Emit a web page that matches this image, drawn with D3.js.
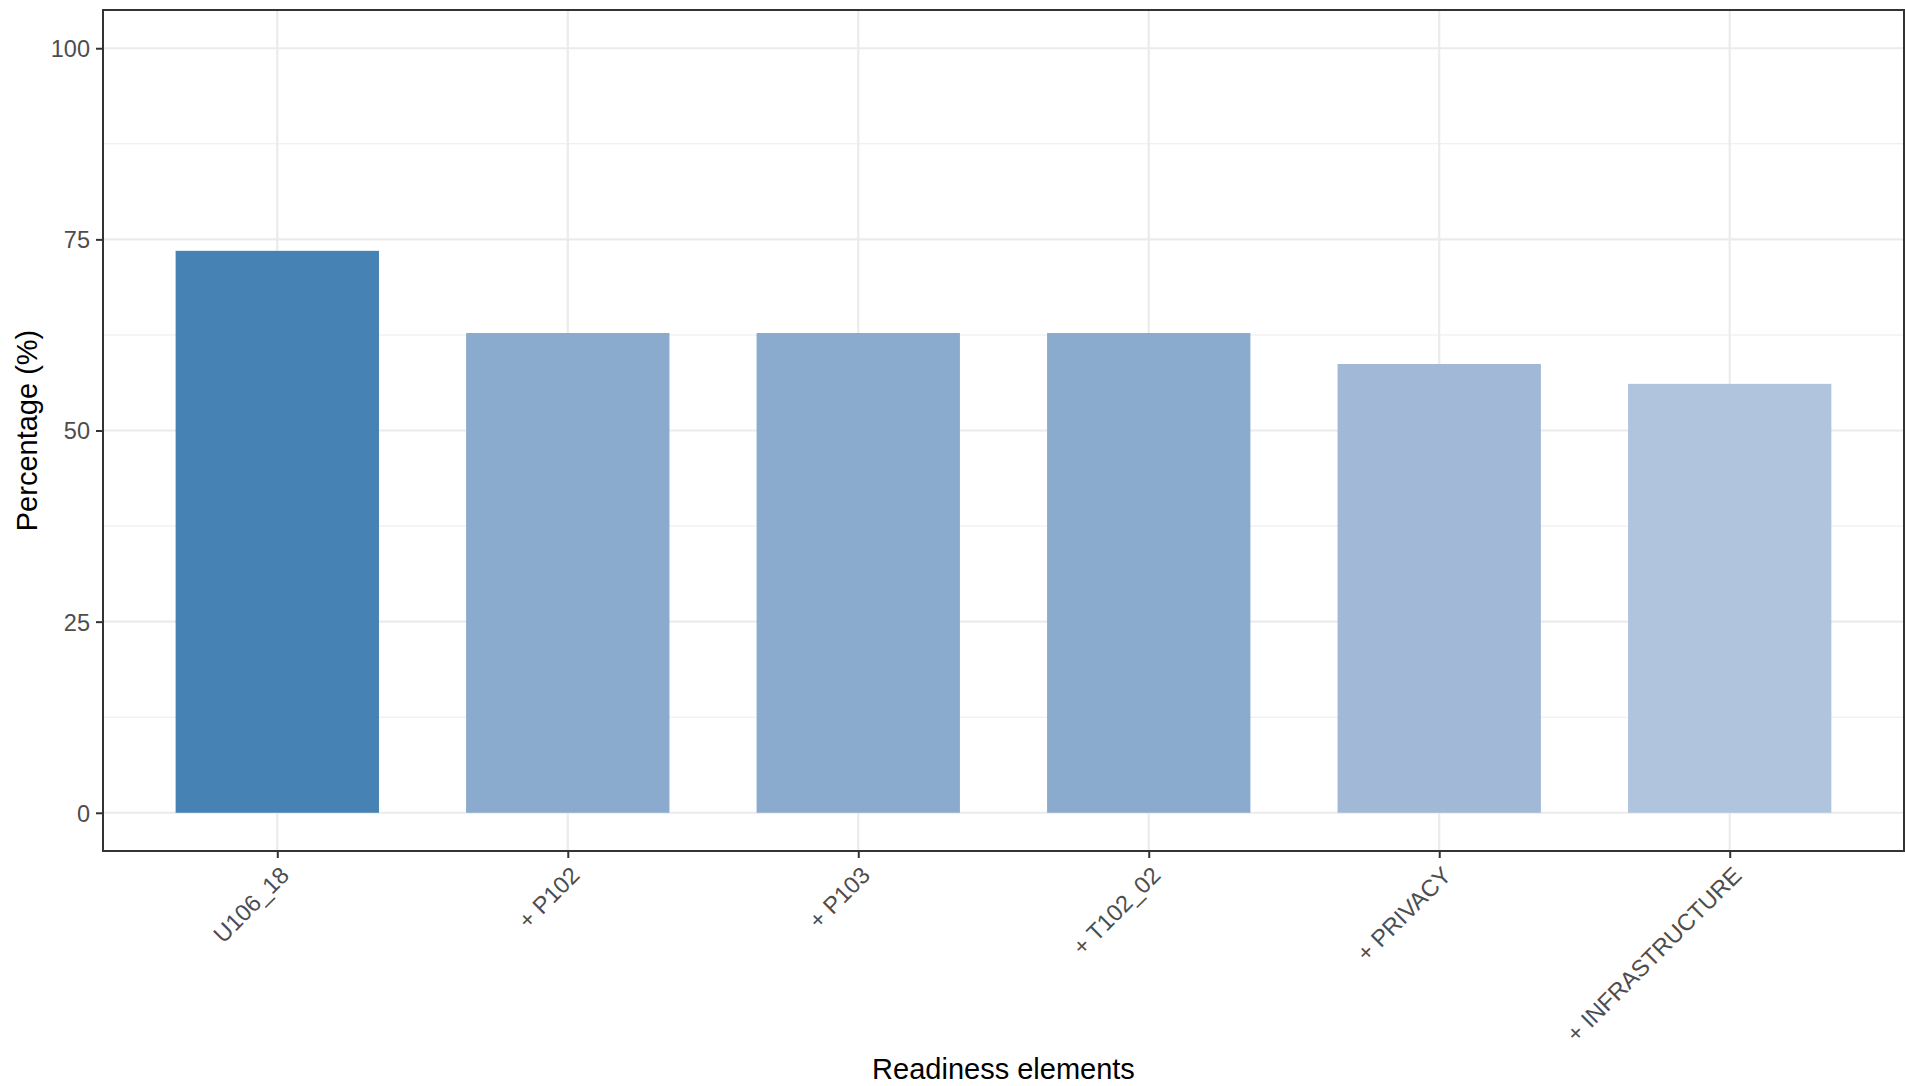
<!DOCTYPE html>
<html>
<head>
<meta charset="utf-8">
<script src="https://cdn.jsdelivr.net/npm/d3@7"></script>
<style>
  html, body { margin: 0; padding: 0; background: #fff; }
  svg { display: block; font-family: "Liberation Sans", Arial, Helvetica, sans-serif; }
</style>
</head>
<body>
<svg id="chart" width="1905" height="1086"></svg>
<script>
const categories = ["U106_18", "+ P102", "+ P103", "+ T102_02", "+ PRIVACY", "+ INFRASTRUCTURE"];
const values = [73.5, 62.75, 62.75, 62.75, 58.7, 56.1];
const barColors = ["#4682B4", "#8AAACE", "#8AAACE", "#8AAACE", "#A1B9D7", "#B0C4DE"];
const yTicks = [0, 25, 50, 75, 100];
const yMinor = [12.5, 37.5, 62.5, 87.5];
const xTitle = "Readiness elements";
const yTitle = "Percentage (%)";

const W = 1905, H = 1086;
const panel = { left: 103, top: 10, right: 1904, bottom: 851 };

const svg = d3.select("#chart");

// ggplot-like discrete scale: 1 unit per category, bar width 0.7, expand 0.6 each side
const xPos = d3.scaleLinear()
  .domain([0.4, categories.length + 0.6])
  .range([panel.left, panel.right]);
const cx = d => xPos(categories.indexOf(d) + 1);
const barW = xPos(1.7) - xPos(1);

const y = d3.scaleLinear().domain([-5, 105]).range([panel.bottom, panel.top]);

const g = svg.append("g");

// minor grid
g.selectAll("line.minor").data(yMinor).enter().append("line")
  .attr("x1", panel.left).attr("x2", panel.right)
  .attr("y1", d => y(d)).attr("y2", d => y(d))
  .attr("stroke", "#EBEBEB").attr("stroke-width", 1.1);

// major grid horizontal
g.selectAll("line.majory").data(yTicks).enter().append("line")
  .attr("x1", panel.left).attr("x2", panel.right)
  .attr("y1", d => y(d)).attr("y2", d => y(d))
  .attr("stroke", "#EBEBEB").attr("stroke-width", 2.2);

// major grid vertical
g.selectAll("line.majorx").data(categories).enter().append("line")
  .attr("x1", d => cx(d)).attr("x2", d => cx(d))
  .attr("y1", panel.top).attr("y2", panel.bottom)
  .attr("stroke", "#EBEBEB").attr("stroke-width", 2.2);

// bars
g.selectAll("rect.bar").data(categories).enter().append("rect")
  .attr("x", d => cx(d) - barW / 2)
  .attr("width", barW)
  .attr("y", (d, i) => y(values[i]))
  .attr("height", (d, i) => y(0) - y(values[i]))
  .attr("fill", (d, i) => barColors[i]);

// panel border
svg.append("rect")
  .attr("x", panel.left).attr("y", panel.top)
  .attr("width", panel.right - panel.left).attr("height", panel.bottom - panel.top)
  .attr("fill", "none").attr("stroke", "#333333").attr("stroke-width", 2);

// y axis
const yAxis = d3.axisLeft(y).tickValues(yTicks).tickSize(7).tickPadding(6).tickFormat(d3.format("d"));
const ya = svg.append("g").attr("transform", `translate(${panel.left},0)`).call(yAxis);
ya.attr("font-size", null).attr("font-family", null);
ya.select(".domain").remove();
ya.selectAll(".tick line").attr("stroke", "#333333").attr("stroke-width", 2);
ya.selectAll(".tick text").attr("fill", "#4D4D4D").style("font-size", "23.5px")
  .attr("dy", "0.36em");

// x axis
const xAxis = d3.axisBottom(d3.scalePoint().domain(categories).range([cx(categories[0]), cx(categories[categories.length - 1])]))
  .tickSize(7).tickPadding(4);
const xa = svg.append("g").attr("transform", `translate(0,${panel.bottom})`).call(xAxis);
xa.attr("font-size", null).attr("font-family", null);
xa.select(".domain").remove();
xa.selectAll(".tick line").attr("stroke", "#333333").attr("stroke-width", 2);
xa.selectAll(".tick text")
  .attr("fill", "#4D4D4D").style("font-size", "23.5px")
  .attr("text-anchor", "end")
  .attr("x", 1).attr("y", 14).attr("dy", "0.71em")
  .attr("transform", "rotate(-45, 1, 14)");

// axis titles
svg.append("text")
  .attr("x", (panel.left + panel.right) / 2)
  .attr("y", 1079)
  .attr("text-anchor", "middle")
  .style("font-size", "29px")
  .attr("fill", "#000")
  .text(xTitle);

svg.append("text")
  .attr("transform", `translate(37,${(panel.top + panel.bottom) / 2}) rotate(-90)`)
  .attr("text-anchor", "middle")
  .style("font-size", "29px")
  .attr("fill", "#000")
  .text(yTitle);
</script>
</body>
</html>
